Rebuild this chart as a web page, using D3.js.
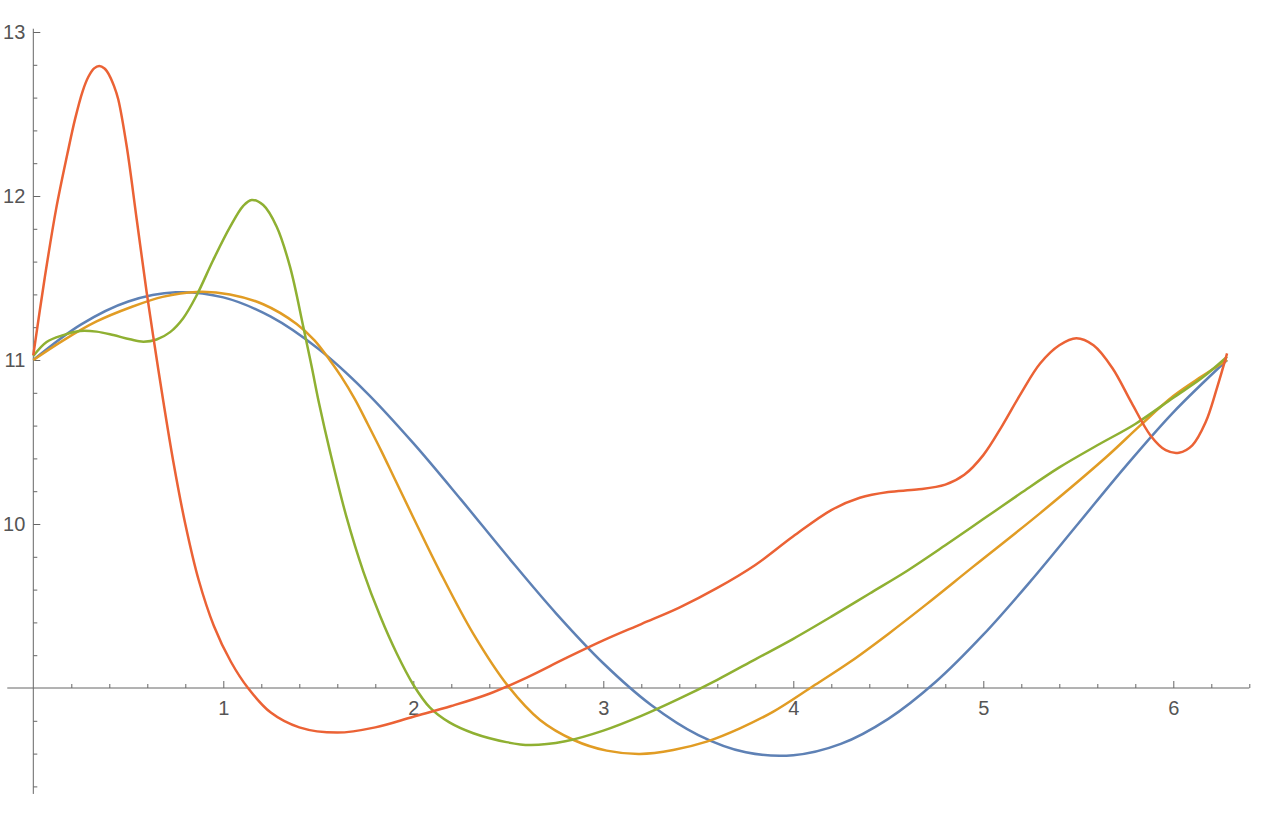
<!DOCTYPE html>
<html>
<head>
<meta charset="utf-8">
<script src="https://cdn.jsdelivr.net/npm/d3@7"></script>
<style>
	body { margin: 0; background: #fff; }
	svg text { font-family: "Liberation Sans", Arial, sans-serif; }
</style>
</head>
<body>
<div id="chart01"></div>
<script>
// values, [x, y]
var blueSeries = [
	[0, 11.0], [0.25, 11.216], [0.5, 11.357], [0.75, 11.413], [1.0, 11.382],
	[1.25, 11.264], [1.5, 11.068], [1.75, 10.806], [2.0, 10.493], [2.25, 10.15],
	[2.5, 9.797], [2.75, 9.457], [3.0, 9.151], [3.25, 8.898], [3.5, 8.713],
	[3.75, 8.608], [4.0, 8.59], [4.25, 8.659], [4.5, 8.812], [4.75, 9.038],
	[5.0, 9.325], [5.25, 9.653], [5.5, 10.003], [5.75, 10.353], [6.0, 10.681],
	[6.283, 11.0]
];
var orangeSeries = [
	[0, 11.0], [0.158, 11.12], [0.333, 11.235], [0.509, 11.32], [0.68, 11.385],
	[0.86, 11.415], [1.035, 11.4], [1.21, 11.34], [1.386, 11.22], [1.48, 11.12],
	[1.56, 11.0], [1.62, 10.9], [1.693, 10.76], [1.76, 10.61], [1.834, 10.44],
	[1.9, 10.28], [2.0, 10.04], [2.14, 9.71], [2.316, 9.33], [2.5, 9.01],
	[2.667, 8.805], [2.844, 8.683], [3.018, 8.618], [3.193, 8.598], [3.368, 8.622],
	[3.544, 8.673], [3.719, 8.754], [3.895, 8.856], [4.105, 9.012], [4.3, 9.16],
	[4.5, 9.33], [4.7, 9.51], [4.947, 9.74], [5.298, 10.065], [5.649, 10.41],
	[5.825, 10.6], [6.0, 10.78], [6.15, 10.9], [6.283, 11.0]
];
var greenSeries = [
	[0, 11.024], [0.07, 11.11], [0.158, 11.152], [0.246, 11.177], [0.333, 11.173],
	[0.421, 11.152], [0.509, 11.126], [0.579, 11.112], [0.649, 11.125], [0.72, 11.17],
	[0.789, 11.255], [0.86, 11.395], [0.947, 11.61], [1.035, 11.81], [1.105, 11.94],
	[1.149, 11.976], [1.21, 11.945], [1.281, 11.813], [1.351, 11.569], [1.421, 11.203],
	[1.465, 10.96], [1.505, 10.73], [1.562, 10.44], [1.649, 10.04], [1.737, 9.71],
	[1.825, 9.44], [1.913, 9.21], [2.0, 9.02], [2.088, 8.88], [2.19, 8.79],
	[2.316, 8.724], [2.49, 8.67], [2.614, 8.652], [2.8, 8.675], [3.0, 8.74],
	[3.2, 8.83], [3.4, 8.935], [3.6, 9.05], [3.8, 9.175], [4.0, 9.3],
	[4.2, 9.435], [4.4, 9.575], [4.6, 9.715], [4.8, 9.87], [5.0, 10.03],
	[5.2, 10.19], [5.4, 10.345], [5.6, 10.48], [5.8, 10.61], [6.0, 10.77],
	[6.15, 10.89], [6.283, 11.02]
];
var redSeries = [
	[0, 11.03], [0.06, 11.5], [0.12, 11.92], [0.18, 12.26], [0.22, 12.47],
	[0.26, 12.64], [0.29, 12.727], [0.32, 12.778], [0.347, 12.793], [0.375, 12.777],
	[0.4, 12.736], [0.425, 12.67], [0.447, 12.59], [0.492, 12.3], [0.544, 11.86],
	[0.597, 11.41], [0.641, 11.07], [0.684, 10.75], [0.737, 10.38], [0.8, 10.0],
	[0.87, 9.66], [0.95, 9.38], [1.04, 9.16], [1.13, 9.0], [1.25, 8.85],
	[1.4, 8.76], [1.6, 8.728], [1.8, 8.76], [2.0, 8.825], [2.2, 8.89],
	[2.4, 8.965], [2.6, 9.065], [2.8, 9.18], [3.0, 9.29], [3.2, 9.39],
	[3.4, 9.49], [3.6, 9.61], [3.8, 9.75], [4.0, 9.925], [4.2, 10.085],
	[4.35, 10.16], [4.5, 10.195], [4.65, 10.21], [4.8, 10.24], [4.9, 10.3],
	[5.0, 10.42], [5.1, 10.6], [5.2, 10.8], [5.3, 10.98], [5.4, 11.09],
	[5.49, 11.133], [5.58, 11.09], [5.68, 10.95], [5.78, 10.74], [5.88, 10.54],
	[5.96, 10.45], [6.03, 10.435], [6.1, 10.48], [6.17, 10.62], [6.23, 10.83],
	[6.283, 11.04]
];
var seriesList = [blueSeries, orangeSeries, greenSeries, redSeries];
var seriesColors = ["#5e81b5", "#e19c24", "#8fb032", "#eb6235"];

var xMajor = [1, 2, 3, 4, 5, 6];
var yMajor = [10, 11, 12, 13];

var width = 1270;
var height = 822;
var svg = d3.select("#chart01").append("svg")
	.attr("width", width)
	.attr("height", height);

var x = d3.scaleLinear().domain([0, 6.4]).range([33.3, 1249.3]);
var y = d3.scaleLinear().domain([9, 13]).range([688, 32]);

var axisColor = "#666";

// minor ticks every 0.2
var xMinor = d3.range(1, 33).filter((i) => i % 5 != 0).map((i) => i / 5);
var yMinor = d3.range(42, 66).filter((i) => i % 5 != 0).map((i) => i / 5);

svg.append("g")
	.attr("transform", `translate(0, ${y(9)})`)
	.attr("color", axisColor)
	.call(d3.axisBottom(x).tickValues(xMinor).tickSize(-4).tickFormat(""))
	.call((g) => g.select(".domain").remove());

svg.append("g")
	.attr("transform", `translate(${x(0)}, 0)`)
	.attr("color", axisColor)
	.call(d3.axisLeft(y).tickValues(yMinor).tickSize(-4).tickFormat(""))
	.call((g) => g.select(".domain").remove());

// major ticks + labels
var xAxis = svg.append("g")
	.attr("transform", `translate(0, ${y(9)})`)
	.attr("color", axisColor)
	.call(d3.axisBottom(x).tickValues(xMajor).tickSize(-7).tickPadding(13).tickFormat(d3.format("d")));
xAxis.select(".domain").remove();
xAxis.selectAll("text").attr("font-size", 20).attr("fill", "#555");

var yAxis = svg.append("g")
	.attr("transform", `translate(${x(0)}, 0)`)
	.attr("color", axisColor)
	.call(d3.axisLeft(y).tickValues(yMajor).tickSize(-7).tickPadding(8).tickFormat(d3.format("d")));
yAxis.select(".domain").remove();
yAxis.selectAll("text").attr("font-size", 20).attr("fill", "#555");

// axis lines
svg.append("line")
	.attr("x1", x(-0.137)).attr("x2", x(6.4))
	.attr("y1", y(9)).attr("y2", y(9))
	.attr("stroke", axisColor).attr("stroke-width", 1);
svg.append("line")
	.attr("x1", x(0)).attr("x2", x(0))
	.attr("y1", y(8.354)).attr("y2", y(13.02))
	.attr("stroke", axisColor).attr("stroke-width", 1);

// the curves
var line = d3.line()
	.x((d) => x(d[0]))
	.y((d) => y(d[1]))
	.curve(d3.curveCatmullRom.alpha(0.5));

svg.selectAll(".curve")
	.data(seriesList)
	.join("path")
	.attr("class", "curve")
	.attr("d", line)
	.attr("fill", "none")
	.attr("stroke", (d, i) => seriesColors[i])
	.attr("stroke-width", 2.5)
	.attr("stroke-linejoin", "round");
</script>
</body>
</html>
